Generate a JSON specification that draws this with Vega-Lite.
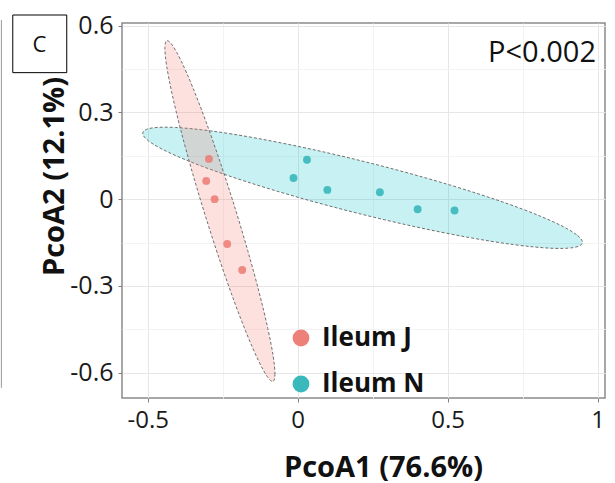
{
"$schema": "https://vega.github.io/schema/vega-lite/v6.json",
"width": 483,
"height": 375,
"autosize": "none",
"padding": {"left": 122, "top": 23, "right": 10, "bottom": 85},
"background": "white",
"config": {"view": {"stroke": "#8a8a8a", "strokeWidth": 1.5}, "font": "Open Sans"},
"datasets": {
"points": [
{"group": "Ileum J", "PcoA1": -0.296, "PcoA2": 0.139},
{"group": "Ileum J", "PcoA1": -0.305, "PcoA2": 0.063},
{"group": "Ileum J", "PcoA1": -0.277, "PcoA2": 0.000},
{"group": "Ileum J", "PcoA1": -0.235, "PcoA2": -0.155},
{"group": "Ileum J", "PcoA1": -0.185, "PcoA2": -0.245},
{"group": "Ileum N", "PcoA1": 0.031, "PcoA2": 0.136},
{"group": "Ileum N", "PcoA1": -0.014, "PcoA2": 0.073},
{"group": "Ileum N", "PcoA1": 0.099, "PcoA2": 0.032},
{"group": "Ileum N", "PcoA1": 0.274, "PcoA2": 0.024},
{"group": "Ileum N", "PcoA1": 0.400, "PcoA2": -0.035},
{"group": "Ileum N", "PcoA1": 0.523, "PcoA2": -0.039}
],
"ellipses": [
{"group": "Ileum N", "i": 0, "PcoA1": 0.9490, "PcoA2": -0.1516},
{"group": "Ileum N", "i": 1, "PcoA1": 0.9297, "PcoA2": -0.1228},
{"group": "Ileum N", "i": 2, "PcoA1": 0.8618, "PcoA2": -0.0829},
{"group": "Ileum N", "i": 3, "PcoA1": 0.7499, "PcoA2": -0.0346},
{"group": "Ileum N", "i": 4, "PcoA1": 0.6016, "PcoA2": 0.0186},
{"group": "Ileum N", "i": 5, "PcoA1": 0.4271, "PcoA2": 0.0733},
{"group": "Ileum N", "i": 6, "PcoA1": 0.2382, "PcoA2": 0.1257},
{"group": "Ileum N", "i": 7, "PcoA1": 0.0478, "PcoA2": 0.1721},
{"group": "Ileum N", "i": 8, "PcoA1": -0.1311, "PcoA2": 0.2095},
{"group": "Ileum N", "i": 9, "PcoA1": -0.2863, "PcoA2": 0.2353},
{"group": "Ileum N", "i": 10, "PcoA1": -0.4073, "PcoA2": 0.2477},
{"group": "Ileum N", "i": 11, "PcoA1": -0.4857, "PcoA2": 0.2459},
{"group": "Ileum N", "i": 12, "PcoA1": -0.5164, "PcoA2": 0.2300},
{"group": "Ileum N", "i": 13, "PcoA1": -0.4971, "PcoA2": 0.2011},
{"group": "Ileum N", "i": 14, "PcoA1": -0.4292, "PcoA2": 0.1612},
{"group": "Ileum N", "i": 15, "PcoA1": -0.3173, "PcoA2": 0.1130},
{"group": "Ileum N", "i": 16, "PcoA1": -0.1690, "PcoA2": 0.0598},
{"group": "Ileum N", "i": 17, "PcoA1": 0.0055, "PcoA2": 0.0051},
{"group": "Ileum N", "i": 18, "PcoA1": 0.1944, "PcoA2": -0.0473},
{"group": "Ileum N", "i": 19, "PcoA1": 0.3848, "PcoA2": -0.0937},
{"group": "Ileum N", "i": 20, "PcoA1": 0.5637, "PcoA2": -0.1311},
{"group": "Ileum N", "i": 21, "PcoA1": 0.7189, "PcoA2": -0.1569},
{"group": "Ileum N", "i": 22, "PcoA1": 0.8399, "PcoA2": -0.1693},
{"group": "Ileum N", "i": 23, "PcoA1": 0.9183, "PcoA2": -0.1675},
{"group": "Ileum J", "i": 0, "PcoA1": -0.0824, "PcoA2": -0.6298},
{"group": "Ileum J", "i": 1, "PcoA1": -0.0758, "PcoA2": -0.6056},
{"group": "Ileum J", "i": 2, "PcoA1": -0.0817, "PcoA2": -0.5431},
{"group": "Ileum J", "i": 3, "PcoA1": -0.0997, "PcoA2": -0.4463},
{"group": "Ileum J", "i": 4, "PcoA1": -0.1286, "PcoA2": -0.3219},
{"group": "Ileum J", "i": 5, "PcoA1": -0.1664, "PcoA2": -0.1783},
{"group": "Ileum J", "i": 6, "PcoA1": -0.2105, "PcoA2": -0.0254},
{"group": "Ileum J", "i": 7, "PcoA1": -0.2579, "PcoA2": 0.1264},
{"group": "Ileum J", "i": 8, "PcoA1": -0.3055, "PcoA2": 0.2669},
{"group": "Ileum J", "i": 9, "PcoA1": -0.3499, "PcoA2": 0.3863},
{"group": "Ileum J", "i": 10, "PcoA1": -0.3881, "PcoA2": 0.4766},
{"group": "Ileum J", "i": 11, "PcoA1": -0.4176, "PcoA2": 0.5316},
{"group": "Ileum J", "i": 12, "PcoA1": -0.4362, "PcoA2": 0.5476},
{"group": "Ileum J", "i": 13, "PcoA1": -0.4428, "PcoA2": 0.5234},
{"group": "Ileum J", "i": 14, "PcoA1": -0.4369, "PcoA2": 0.4609},
{"group": "Ileum J", "i": 15, "PcoA1": -0.4189, "PcoA2": 0.3641},
{"group": "Ileum J", "i": 16, "PcoA1": -0.3900, "PcoA2": 0.2397},
{"group": "Ileum J", "i": 17, "PcoA1": -0.3522, "PcoA2": 0.0961},
{"group": "Ileum J", "i": 18, "PcoA1": -0.3081, "PcoA2": -0.0568},
{"group": "Ileum J", "i": 19, "PcoA1": -0.2607, "PcoA2": -0.2086},
{"group": "Ileum J", "i": 20, "PcoA1": -0.2131, "PcoA2": -0.3491},
{"group": "Ileum J", "i": 21, "PcoA1": -0.1687, "PcoA2": -0.4685},
{"group": "Ileum J", "i": 22, "PcoA1": -0.1305, "PcoA2": -0.5588},
{"group": "Ileum J", "i": 23, "PcoA1": -0.1010, "PcoA2": -0.6138}
]
},
"layer": [
{
"data": {"name": "ellipses"},
"transform": [{"filter": "datum.group == 'Ileum N'"}],
"mark": {"type": "line", "interpolate": "cardinal-closed", "stroke": "#707070", "strokeWidth": 1, "strokeDash": [3, 2], "fill": "#00BFC4", "fillOpacity": 0.22},
"encoding": {
"x": {"field": "PcoA1", "type": "quantitative",
"scale": {"domain": [-0.5858, 1.0247], "nice": false, "zero": false},
"axis": {
"values": [-0.5, -0.25, 0, 0.25, 0.5, 0.75, 1],
"labelExpr": "(datum.value == -0.25 || datum.value == 0.25 || datum.value == 0.75) ? '' : '' + datum.value",
"title": "PcoA1 (76.6%)",
"domain": false,
"tickSize": 4,
"tickColor": "#808080",
"tickOpacity": {"condition": {"test": "datum.value == -0.25 || datum.value == 0.25 || datum.value == 0.75", "value": 0}, "value": 1},
"gridColor": {"condition": {"test": "datum.value == -0.25 || datum.value == 0.25 || datum.value == 0.75", "value": "#f3f3f3"}, "value": "#e6e6e6"},
"labelFontSize": 24, "labelColor": "#1a1a1a", "labelPadding": 6, "labelFlush": false, "labelOverlap": false,
"titleFontSize": 29, "titleFontWeight": "bold", "titleColor": "#111111",
"titleX": 261, "titleY": 78, "titleBaseline": "alphabetic", "titleAlign": "center"
}},
"y": {"field": "PcoA2", "type": "quantitative",
"scale": {"domain": [-0.6872, 0.6088], "nice": false, "zero": false},
"axis": {
"values": [-0.6, -0.45, -0.3, -0.15, 0, 0.15, 0.3, 0.45, 0.6],
"labelExpr": "(abs(datum.value) == 0.15 || abs(datum.value) == 0.45) ? '' : '' + datum.value",
"title": "PcoA2 (12.1%)",
"domain": false,
"tickSize": 4,
"tickColor": "#808080",
"tickOpacity": {"condition": {"test": "abs(datum.value) == 0.15 || abs(datum.value) == 0.45", "value": 0}, "value": 1},
"gridColor": {"condition": {"test": "abs(datum.value) == 0.15 || abs(datum.value) == 0.45", "value": "#f3f3f3"}, "value": "#e6e6e6"},
"labelFontSize": 25, "labelColor": "#1a1a1a", "labelPadding": 5, "labelFlush": false, "labelOverlap": false,
"titleFontSize": 29, "titleFontWeight": "bold", "titleColor": "#111111",
"titleAngle": 270, "titleX": -59, "titleY": 153, "titleBaseline": "alphabetic", "titleAlign": "center"
}},
"order": {"field": "i", "type": "quantitative"}
}
},
{
"data": {"name": "ellipses"},
"transform": [{"filter": "datum.group == 'Ileum J'"}],
"mark": {"type": "line", "interpolate": "cardinal-closed", "stroke": "#707070", "strokeWidth": 1, "strokeDash": [3, 2], "fill": "#F8766D", "fillOpacity": 0.22},
"encoding": {
"x": {"field": "PcoA1", "type": "quantitative"},
"y": {"field": "PcoA2", "type": "quantitative"},
"order": {"field": "i", "type": "quantitative"}
}
},
{
"data": {"name": "points"},
"mark": {"type": "circle", "size": 62, "opacity": 0.85},
"encoding": {
"x": {"field": "PcoA1", "type": "quantitative"},
"y": {"field": "PcoA2", "type": "quantitative"},
"color": {"field": "group", "type": "nominal",
"scale": {"domain": ["Ileum J", "Ileum N"], "range": ["#EC7A73", "#2FB5B9"]},
"legend": {"orient": "none", "legendX": 166, "legendY": 302, "title": null, "padding": 0,
"symbolType": "circle", "symbolSize": 283, "symbolOpacity": 0.95, "symbolStrokeWidth": 0,
"labelFontSize": 26, "labelFontWeight": "bold", "labelColor": "#111111", "labelOffset": 8,
"rowPadding": 20, "direction": "vertical"}}
}
},
{
"data": {"values": [{}]},
"mark": {"type": "text", "align": "right", "baseline": "alphabetic", "fontSize": 29, "color": "#111111"},
"encoding": {"x": {"datum": 0.9947}, "y": {"datum": 0.4731}, "text": {"value": "P<0.002"}}
},
{
"data": {"values": [{}]},
"mark": {"type": "rect", "fill": "white", "stroke": "#000000", "strokeWidth": 1},
"encoding": {"x": {"datum": -0.950}, "x2": {"datum": -0.770}, "y": {"datum": 0.6364}, "y2": {"datum": 0.4372}}
},
{
"data": {"values": [{}]},
"mark": {"type": "text", "align": "center", "baseline": "middle", "fontSize": 22, "color": "#111111"},
"encoding": {"x": {"datum": -0.861}, "y": {"datum": 0.533}, "text": {"value": "C"}}
},
{
"data": {"values": [{}]},
"mark": {"type": "rule", "stroke": "#999999", "strokeWidth": 1},
"encoding": {"x": {"datum": -0.988}, "y": {"datum": 0.6188}, "y2": {"datum": -0.6519}}
}
]
}
